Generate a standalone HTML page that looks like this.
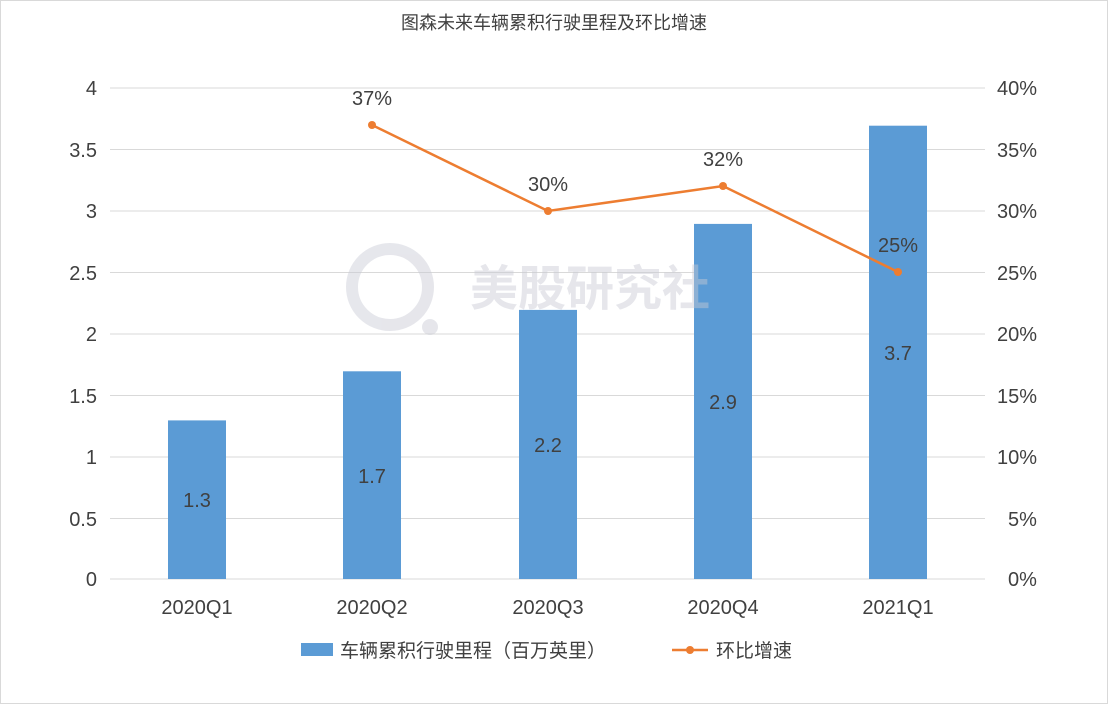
<!DOCTYPE html>
<html><head><meta charset="utf-8"><style>
html,body{margin:0;padding:0;background:#fff;}
svg{display:block;font-family:"Liberation Sans","Noto Sans CJK SC",sans-serif;}
</style></head><body>
<svg width="1108" height="704" viewBox="0 0 1108 704" xmlns="http://www.w3.org/2000/svg">
<rect x="0.5" y="0.5" width="1107" height="703" fill="#fff" stroke="#d9d9d9"/>
<text x="554" y="29" text-anchor="middle" font-size="18" fill="#404040">图森未来车辆累积行驶里程及环比增速</text>
<g stroke="#d9d9d9" stroke-width="1">
<line x1="110" y1="88" x2="985" y2="88"/><line x1="110" y1="149.5" x2="985" y2="149.5"/>
<line x1="110" y1="211" x2="985" y2="211"/><line x1="110" y1="272.5" x2="985" y2="272.5"/>
<line x1="110" y1="334" x2="985" y2="334"/><line x1="110" y1="395.5" x2="985" y2="395.5"/>
<line x1="110" y1="457" x2="985" y2="457"/><line x1="110" y1="518.5" x2="985" y2="518.5"/>
<line x1="110" y1="579" x2="985" y2="579"/>
</g>
<g font-size="20" fill="#404040" text-anchor="end">
<text x="97" y="95">4</text><text x="97" y="157">3.5</text><text x="97" y="218">3</text>
<text x="97" y="280">2.5</text><text x="97" y="341">2</text><text x="97" y="403">1.5</text>
<text x="97" y="464">1</text><text x="97" y="526">0.5</text><text x="97" y="586">0</text>
</g>
<g font-size="20" fill="#404040" text-anchor="start">
<text x="997" y="95">40%</text><text x="997" y="157">35%</text><text x="997" y="218">30%</text>
<text x="997" y="280">25%</text><text x="997" y="341">20%</text><text x="997" y="403">15%</text>
<text x="997" y="464">10%</text><text x="1008" y="526">5%</text><text x="1008" y="586">0%</text>
</g>
<g fill="#5b9bd5">
<rect x="168" y="420.4" width="58" height="158.6"/>
<rect x="343" y="371.3" width="58" height="207.7"/>
<rect x="519" y="309.9" width="58" height="269.1"/>
<rect x="694" y="223.9" width="58" height="355.1"/>
<rect x="869" y="125.7" width="58" height="453.3"/>
</g>
<!-- watermark -->
<g opacity="0.45">
<circle cx="390" cy="287" r="38" fill="none" stroke="#c8cad4" stroke-width="12"/>
<circle cx="430" cy="327" r="8" fill="#c8cad4"/>
<text x="470" y="305" font-size="48" font-weight="bold" fill="#c8cad4">美股研究社</text>
</g>
<g font-size="20" fill="#404040" text-anchor="middle">
<text x="197" y="507">1.3</text><text x="372" y="483">1.7</text><text x="548" y="452">2.2</text>
<text x="723" y="409">2.9</text><text x="898" y="360">3.7</text>
</g>
<polyline points="372,125 548,211 723,186 898,272" fill="none" stroke="#ed7d31" stroke-width="2.5"/>
<g fill="#ed7d31"><circle cx="372" cy="125" r="4"/><circle cx="548" cy="211" r="4"/><circle cx="723" cy="186" r="4"/><circle cx="898" cy="272" r="4"/></g>
<g font-size="20" fill="#404040" text-anchor="middle">
<text x="372" y="105">37%</text><text x="548" y="191">30%</text><text x="723" y="166">32%</text><text x="898" y="252">25%</text>
</g>
<g font-size="20" fill="#404040" text-anchor="middle">
<text x="197" y="614">2020Q1</text><text x="372" y="614">2020Q2</text><text x="548" y="614">2020Q3</text>
<text x="723" y="614">2020Q4</text><text x="898" y="614">2021Q1</text>
</g>
<rect x="301" y="643" width="32" height="13" fill="#5b9bd5"/>
<text x="340" y="657" font-size="19" fill="#404040">车辆累积行驶里程（百万英里）</text>
<line x1="672" y1="650" x2="708" y2="650" stroke="#ed7d31" stroke-width="2.5"/>
<circle cx="690" cy="650" r="4" fill="#ed7d31"/>
<text x="716" y="657" font-size="19" fill="#404040">环比增速</text>
</svg>
</body></html>
